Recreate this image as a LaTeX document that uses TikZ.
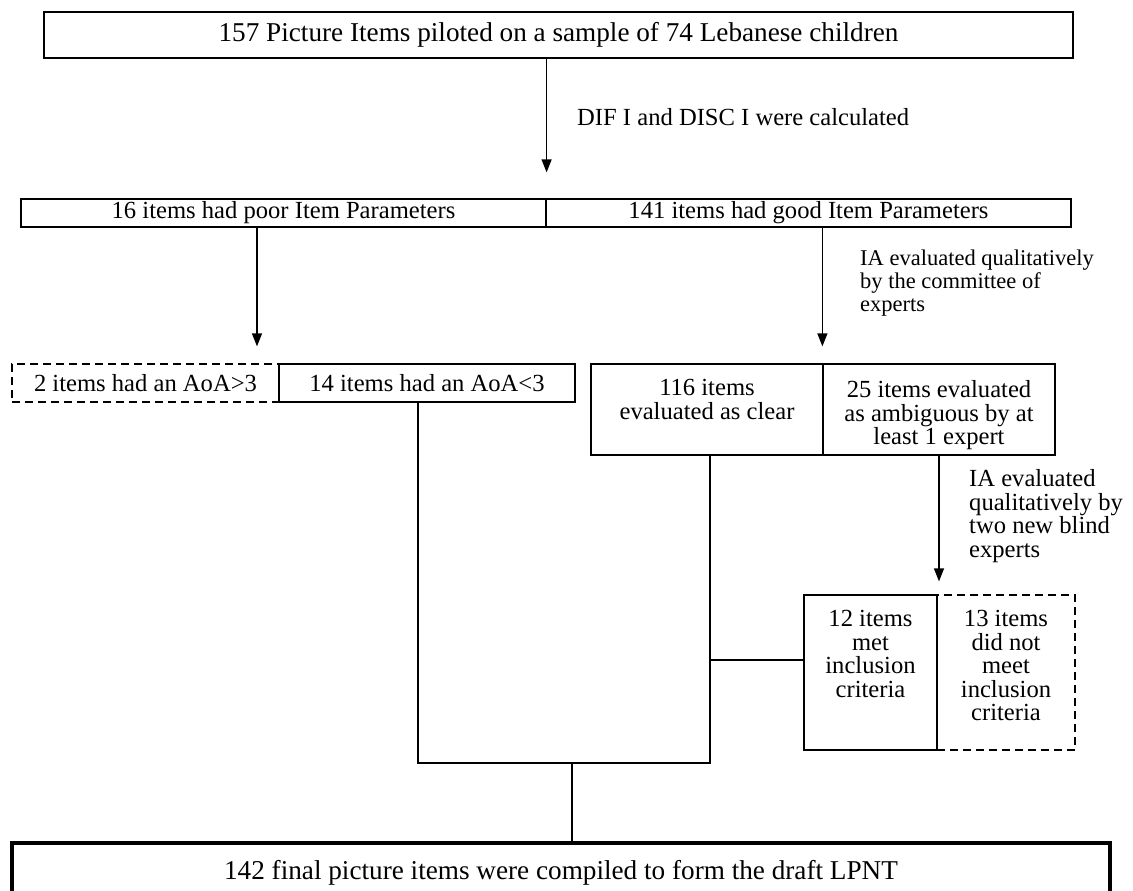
\documentclass[tikz,border=0pt]{standalone}
\usepackage{fontspec}
\setmainfont{Liberation Serif}
\usetikzlibrary{arrows.meta}
\begin{document}
\begin{tikzpicture}[x=1pt,y=-1pt,
  every node/.style={font=\fontsize{24.6}{23.5}\selectfont, inner sep=0pt},
  bigfont/.style={font=\fontsize{27.2}{30}\selectfont},
  smallfont/.style={font=\fontsize{22.5}{22.6}\selectfont},
  box/.style={draw, line width=1.2pt},
  dbox/.style={draw, line width=1.2pt, dash pattern=on 8pt off 5pt},
  txt/.style={align=center, anchor=north},
  lbl/.style={align=left, anchor=north west},
  conn/.style={line width=1.2pt},
  arr/.style={conn, -{Triangle[length=13pt,width=10pt]}}]
\useasboundingbox (0,0) rectangle (1133,891);
\clip (0,0) rectangle (1133,891);
% boxes
\node[box, bigfont, minimum width=1029pt, minimum height=46pt] (top) at (558.5,35) {157 Picture Items piloted on a sample of 74 Lebanese children};
\node[box, minimum width=525pt, minimum height=28pt] (poor) at (283.5,213) {16 items had poor Item Parameters};
\node[box, minimum width=525pt, minimum height=28pt] (good) at (808.5,213) {141 items had good Item Parameters};
\node[dbox, minimum width=267pt, minimum height=38pt] (aoa2) at (145.5,383) {2 items had an AoA>3};
\node[box, minimum width=296pt, minimum height=38pt] (aoa14) at (427,383) {14 items had an AoA<3};
\node[box, minimum width=232pt, minimum height=91pt] (clear) at (707,409.5) {};
\node[txt] (clearT) at (707,379.5) {116 items\\evaluated as clear};
\node[box, minimum width=232pt, minimum height=91pt] (amb) at (939,409.5) {};
\node[txt] (ambT) at (939,380.5) {25 items evaluated\\as ambiguous by at\\least 1 expert};
\node[dbox, minimum width=138pt, minimum height=155pt] (nomeet) at (1006,672.5) {};
\node[box, minimum width=133pt, minimum height=155pt] (met) at (870.5,672.5) {};
\node[txt] (metT) at (870.5,610.5) {12 items\\met\\inclusion\\criteria};
\node[txt] (nomeetT) at (1006,610.5) {13 items\\did not\\meet\\inclusion\\criteria};
\node[draw, bigfont, line width=4pt, minimum width=1098pt, minimum height=60pt] (final) at (561,873) {142 final picture items were compiled to form the draft LPNT};
% labels
\node[anchor=west] (difL) at (577,117) {DIF I and DISC I were calculated};
\node[lbl, smallfont] (ia1) at (860,250) {IA evaluated qualitatively\\by the committee of\\experts};
\node[lbl] (ia2) at (969,469.5) {IA evaluated\\qualitatively by\\two new blind\\experts};
% connectors
\draw[arr, shorten >=26pt] (top.south -| poor.east) -- (poor.north east);
\coordinate (pl) at ([xshift=-26.5pt]poor.south);
\draw[arr, shorten >=17pt] (pl) -- (pl |- aoa14.north);
\draw[arr, shorten >=17pt] (good.south -| amb.north west) -- (amb.north west);
\draw[arr, shorten >=13pt] (amb.south) -- (amb.south |- met.north);
\coordinate (al) at ([xshift=-9pt]aoa14.south);
\coordinate (cv) at ([xshift=3pt]clear.south);
\coordinate (join) at (572,763);
\draw[conn] (al) |- (join) -| (cv);
\draw[conn] (join) -- (join |- final.north);
\coordinate (mw) at ([yshift=12.5pt]met.west);
\draw[conn] (mw) -- (mw -| cv);
\end{tikzpicture}
\end{document}
